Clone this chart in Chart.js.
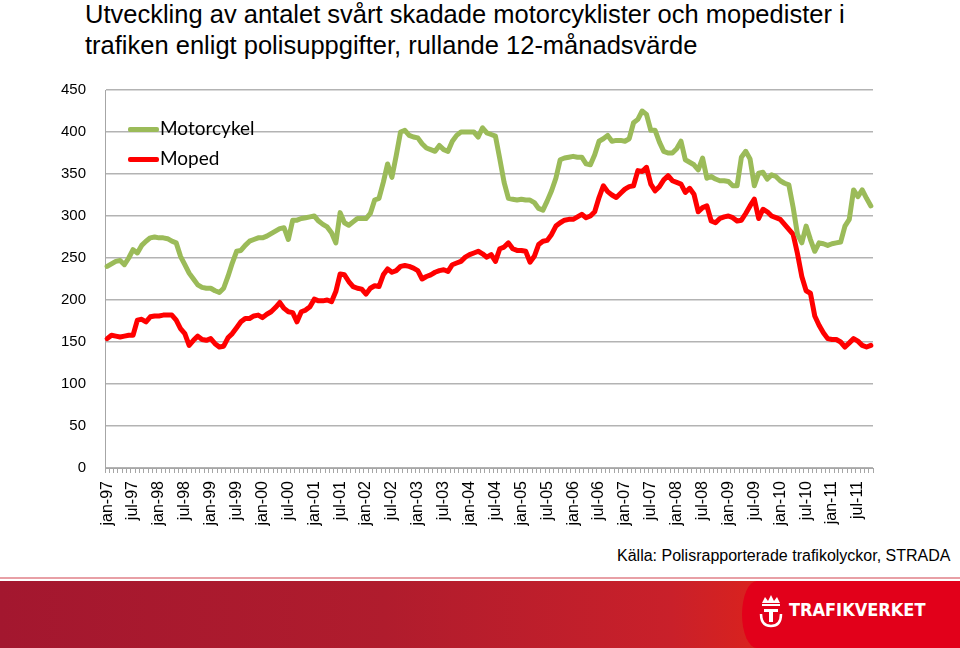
<!DOCTYPE html>
<html>
<head>
<meta charset="utf-8">
<script src="https://cdn.jsdelivr.net/npm/chart.js@4"></script>
<style>
  body { margin: 0; width: 960px; height: 648px; background: #fff; position: relative; overflow: hidden; font-family: "Liberation Sans", Arial, sans-serif; }
  #title { position: absolute; left: 85px; top: -1px; font-size: 25.5px; line-height: 31px; color: #000; }
  #chart { position: absolute; left: 0; top: 0; }
  .legend { position: absolute; left: 128px; font-family: Lato, "Open Sans", sans-serif; font-size: 19px; color: #000; }
  .legend span { display: inline-block; width: 31px; height: 5px; border-radius: 2px; vertical-align: middle; margin-right: 1px; position: relative; top: -1px; }
  #source { position: absolute; left: 617px; top: 547px; font-size: 16px; color: #000; }
  #stripe { position: absolute; left: 0; top: 577px; width: 960px; height: 2px; background: #e8a0a6; }
  #footer { position: absolute; left: 0; top: 581px; width: 960px; height: 67px; background: linear-gradient(to right, #a3172f 0%, #b01c2d 40%, #c9202a 70%, #d8221f 78%); }
  #panel { position: absolute; left: 742px; top: 581px; width: 260px; height: 67px; background: #e2001a; border-top-left-radius: 30px 67px; border-bottom-left-radius: 30px 67px; }
  #logo { position: absolute; left: 758px; top: 594px; color: #fff; font-family: "DejaVu Sans Condensed", "DejaVu Sans", sans-serif; font-weight: bold; font-size: 18px; letter-spacing: 0px; }
  #logo svg { vertical-align: middle; margin-right: 5px; }
</style>
</head>
<body>
<div id="title">Utveckling av antalet svårt skadade motorcyklister och mopedister i<br>trafiken enligt polisuppgifter, rullande 12-månadsvärde</div>
<canvas id="chart" width="960" height="545"></canvas>
<div class="legend" style="top:116px"><span style="background:#9bbb59"></span>Motorcykel</div>
<div class="legend" style="top:146px"><span style="background:#ff0000"></span>Moped</div>
<div id="source">Källa: Polisrapporterade trafikolyckor, STRADA</div>
<div id="stripe"></div>
<div id="footer"></div>
<div id="panel"></div>
<div id="logo"><svg width="26" height="34" viewBox="0 0 26 34"><path d="M4 9 L7 3 L10 7 L13 1 L16 7 L19 3 L22 9 Z" fill="#fff"/><rect x="4" y="10" width="18" height="2" fill="#fff"/><rect x="6" y="15" width="14" height="3" fill="#fff"/><rect x="11" y="15" width="4" height="13" fill="#fff"/><path d="M3 20 Q3 32 13 32 Q23 32 23 20" stroke="#fff" stroke-width="2.5" fill="none"/></svg>TRAFIKVERKET</div>

<script>
// Swedish month abbreviations, data runs jan-97 .. okt-11
const monthNames = ["jan", "feb", "mar", "apr", "maj", "jun", "jul", "aug", "sep", "okt", "nov", "dec"];
const years = ["97", "98", "99", "00", "01", "02", "03", "04", "05", "06", "07", "08", "09", "10", "11"];
const lastMonthIndex = 9; // okt-11

// Rolling 12-month values, one row per year
const motorcykel = [
  240, 243, 246, 247, 242, 250, 260, 256, 265, 270, 274, 275,
  274, 274, 273, 270, 268, 252, 242, 232, 225, 218, 215, 214,
  214, 211, 209, 214, 228, 244, 258, 259, 265, 270, 272, 274,
  274, 276, 279, 282, 285, 286, 272, 295, 295, 297, 298, 299,
  300, 294, 290, 287, 280, 268, 304, 292, 289, 293, 297, 297,
  297, 303, 319, 321, 340, 362, 346, 372, 400, 402, 396, 394,
  393, 386, 381, 379, 377, 384, 379, 377, 389, 396, 400, 400,
  400, 400, 394, 405, 399, 397, 395, 368, 340, 321, 320, 319,
  320, 319, 319, 316, 309, 307, 318, 330, 345, 367, 369, 370,
  371, 370, 370, 362, 361, 373, 389, 392, 396, 389, 390, 390,
  389, 392, 411, 415, 425, 421, 402, 402, 388, 377, 375, 375,
  380, 389, 367, 364, 361, 355, 369, 345, 347, 344, 342, 342,
  341, 336, 336, 370, 377, 368, 336, 351, 352, 344, 349, 347,
  342, 339, 337, 310, 278, 268, 288, 272, 258, 268, 267, 265,
  267, 268, 269, 288, 296, 331, 323, 331, 321, 312
];

const moped = [
  154, 158, 157, 156, 157, 158, 158, 176, 177, 174, 180, 181,
  181, 182, 182, 182, 176, 166, 160, 146, 152, 157, 153, 152,
  154, 148, 144, 145, 155, 160, 167, 174, 178, 178, 181, 182,
  179, 183, 186, 191, 197, 190, 186, 185, 174, 186, 188, 192,
  201, 199, 199, 200, 198, 210, 231, 230, 222, 216, 214, 213,
  207, 214, 217, 216, 230, 237, 233, 235, 240, 241, 240, 238,
  235, 225, 228, 230, 233, 235, 236, 234, 242, 244, 246, 251,
  254, 256, 258, 255, 251, 254, 246, 261, 263, 268, 261, 259,
  259, 258, 245, 252, 266, 270, 271, 278, 288, 292, 295, 296,
  296, 299, 302, 298, 300, 305, 322, 336, 329, 325, 322, 327,
  332, 335, 336, 354, 353, 358, 338, 330, 335, 343, 348, 342,
  340, 338, 328, 333, 326, 305, 310, 312, 294, 292, 297, 299,
  300, 298, 294, 295, 303, 312, 320, 297, 308, 305, 300, 298,
  296, 290, 284, 278, 255, 228, 211, 208, 181, 170, 161, 154,
  153, 153, 150, 144, 149, 154, 151, 146, 144, 146
];

const yTicks = { min: 0, max: 450, step: 50 };

function buildCategories() {
  const labels = [];
  years.forEach((yy, yi) => {
    monthNames.forEach((m, mi) => {
      if (yi === years.length - 1 && mi > lastMonthIndex) return;
      labels.push(`${m}-${yy}`);
    });
  });
  return labels;
}

document.addEventListener("DOMContentLoaded", function () {
  const labels = buildCategories();
  const ctx = document.getElementById("chart").getContext("2d");

  new Chart(ctx, {
    type: "line",
    data: {
      labels: labels,
      datasets: [
        {
          label: "Motorcykel",
          data: motorcykel,
          borderColor: "#9bbb59",
          borderWidth: 5,
          pointRadius: 0,
          tension: 0,
          borderJoinStyle: "round",
          borderCapStyle: "round",
        },
        {
          label: "Moped",
          data: moped,
          borderColor: "#ff0000",
          borderWidth: 5,
          pointRadius: 0,
          tension: 0,
          borderJoinStyle: "round",
          borderCapStyle: "round",
        },
      ],
    },
    options: {
      responsive: false,
      animation: false,
      devicePixelRatio: 1,
      layout: { padding: { top: 90, right: 87, bottom: 0, left: 0 } },
      plugins: {
        legend: { display: false },
        tooltip: { enabled: false },
      },
      scales: {
        x: {
          offset: true,
          grid: {
            offset: true,
            drawOnChartArea: false,
            drawTicks: true,
            tickLength: 5,
            color: "#a6a6a6",
          },
          border: { color: "#a6a6a6", width: 1 },
          ticks: {
            autoSkip: false,
            maxRotation: 90,
            minRotation: 90,
            padding: 8,
            color: "#000",
            font: { family: "'Liberation Sans', Arial, sans-serif", size: 16 },
            callback: function (value, index) {
              return index % 6 === 0 ? this.getLabelForValue(value) : "";
            },
          },
          afterFit: (scale) => {
            scale.height = 77;
          },
        },
        y: {
          min: yTicks.min,
          max: yTicks.max,
          grid: { color: "#b3b3b3", lineWidth: 1.5, drawTicks: false },
          border: { color: "#a6a6a6", width: 1 },
          ticks: {
            stepSize: yTicks.step,
            padding: 19,
            color: "#000",
            font: { family: "'Liberation Sans', Arial, sans-serif", size: 15 },
          },
          afterFit: (scale) => {
            scale.width = 105;
          },
        },
      },
    },
  });
});
</script>
</body>
</html>
